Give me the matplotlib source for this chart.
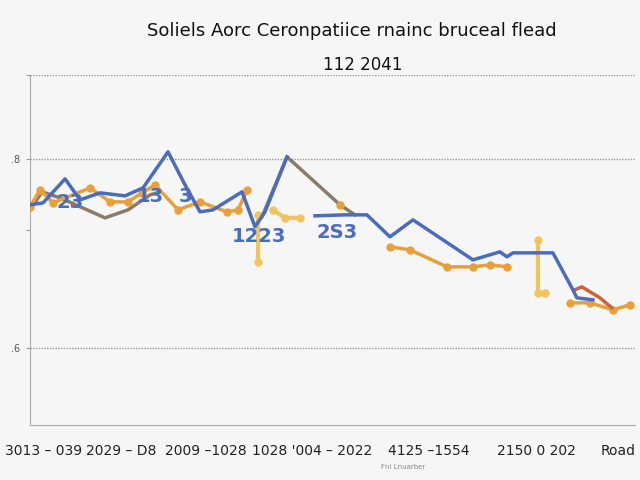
import numpy as np
import matplotlib
matplotlib.use("Agg")
import matplotlib.pyplot as plt

nan = np.nan

# series values (x = period index, y = rate)
blue_x = [0, 1.3, 3.5, 5.0, 7.0, 9.5, 11.3, 13.8, 15.5, 17.0, 18.3, 21.2, 22.5, 23.5, 25.7, 27.0,
          28.5, 31.5, 33.7, 36.0, 38.3, 44.3, 47.0, 47.7, 48.3, 52.3, 54.3, 54.7, 56.3]
blue_y = [0.770, 0.772, 0.796, 0.775, 0.782, 0.779, 0.787, 0.823, 0.790, 0.763, 0.765, 0.783, 0.748, 0.763, 0.818, nan,
          0.759, 0.760, 0.760, 0.738, 0.755, 0.715, 0.723, 0.718, 0.722, 0.722, 0.685, 0.677, 0.675]

brown_x = [0, 1.2, 3.0, 7.5, 9.8, 12.0, 13.0, 18.0, 23.2, 25.7, 31.0, 32.5]
brown_y = [0.765, 0.783, 0.777, 0.757, 0.765, 0.780, 0.783, nan, 0.758, 0.818, 0.770, 0.760]

orange_x = [0, 1.0, 2.3, 6.0, 8.0, 9.8, 11.2, 12.5, 14.8, 17.0, 19.7, 20.8, 21.7, 26.0, 31.0, 33.0,
            36.0, 38.0, 41.7, 44.3, 46.0, 47.7, 50.0, 54.0, 56.0, 58.3, 60.0]
orange_y = [0.768, 0.785, 0.772, 0.787, 0.773, 0.773, 0.782, 0.790, 0.765, 0.773, 0.763, 0.765, 0.785, nan, 0.770, nan,
            0.728, 0.725, 0.708, 0.708, 0.710, 0.708, nan, 0.672, 0.672, 0.665, 0.670]

yellow_x = [22.8, 22.8, 23.5, 24.3, 25.5, 27.0, 40.0, 50.8, 50.8, 51.5]
yellow_y = [0.713, 0.760, nan, 0.765, 0.757, 0.757, nan, 0.735, 0.682, 0.682]

red_x = [54.5, 55.2, 57.0, 58.2]
red_y = [0.685, 0.688, 0.677, 0.667]

labels_txt = ["23", "13", "3", "1223", "2S3"]
labels_x = [4.0, 12.0, 15.5, 22.9, 30.7]
labels_y = [0.772, 0.778, 0.778, 0.738, 0.742]

xtick_pos = [1.3, 9.1, 17.6, 25.7, 31.9, 39.9, 50.7, 58.8]
xtick_lab = ["3013 – 039", "2029 – D8", "2009 –1028", "1028 '004", "– 2022",
             "4125 –1554", "2150 0 202", "Road"]
ytick_pos = [0.90, 0.816, 0.745, 0.627]
ytick_lab = ["", ".8", "", ".6"]

bg = "#f6f6f6"
fig = plt.figure(figsize=(6.4, 4.8), dpi=100, facecolor=bg)
ax = fig.add_axes([0.047, 0.115, 0.945, 0.729], facecolor=bg)

ax.plot(yellow_x, yellow_y, color="#f2c55c", lw=3, marker="o", ms=5, zorder=2)
ax.plot(brown_x, brown_y, color="#8c7b69", lw=2.5, zorder=3)
ax.plot(orange_x, orange_y, color="#e9a03b", lw=2.5, marker="o", ms=5, zorder=3)
ax.plot(red_x, red_y, color="#c8663a", lw=2.5, zorder=3)
ax.plot(blue_x, blue_y, color="#4a6cc0", lw=2.5, zorder=4)

for t, x, y in zip(labels_txt, labels_x, labels_y):
    ax.text(x, y, t, color="#4a6cc0", fontsize=14, fontweight="bold",
            ha="center", va="center", zorder=5)

ax.set_xlim(0, 60.5)
ax.set_ylim(0.55, 0.90)
ax.set_xticks(xtick_pos)
ax.set_xticklabels(xtick_lab, fontsize=10, color="#222222")
ax.set_yticks(ytick_pos)
ax.set_yticklabels(ytick_lab, fontsize=7, color="#555555")
ax.tick_params(axis="x", length=0, pad=14)
ax.tick_params(axis="y", length=3, color="#999999", pad=4)
for y in [0.90, 0.816, 0.627]:
    ax.axhline(y, color="#999999", lw=1, ls=(0, (1, 1)), zorder=1)
for s in ["top", "right"]:
    ax.spines[s].set_visible(False)
ax.spines["left"].set_color("#aaaaaa")
ax.spines["bottom"].set_color("#aaaaaa")

fig.text(0.55, 0.935, "Soliels Aorc Ceronpatiice rnainc bruceal flead",
         ha="center", va="center", fontsize=13, color="#111111")
fig.text(0.567, 0.865, "112 2041", ha="center", va="center", fontsize=12, color="#111111")
fig.text(0.63, 0.028, "Fni Lnuarber", ha="center", va="center", fontsize=5, color="#888888")

fig.savefig("out.png", dpi=100, facecolor=bg)
